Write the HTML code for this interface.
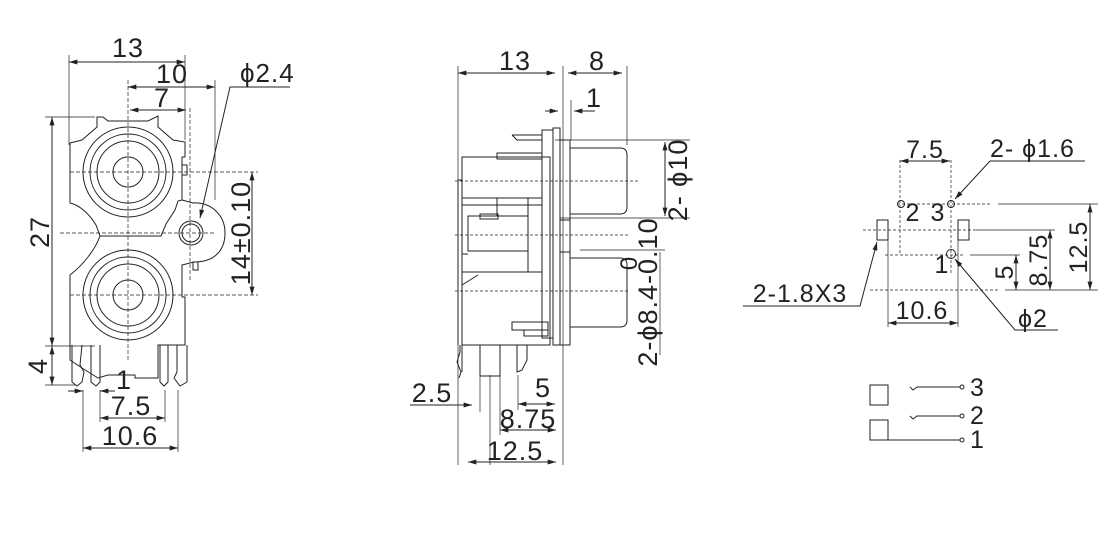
<!DOCTYPE html>
<html><head><meta charset="utf-8"><style>html,body{margin:0;padding:0;background:#fff}svg{display:block}text{font-family:"Liberation Sans",sans-serif;fill:#222;letter-spacing:1px}</style></head>
<body>
<svg width="1120" height="534" viewBox="0 0 1120 534" xmlns="http://www.w3.org/2000/svg">
<defs>
<marker id="a" viewBox="0 0 10 6" refX="10" refY="3" markerWidth="9" markerHeight="5" orient="auto-start-reverse"><path d="M0,0L10,3L0,6z" fill="#222"/></marker>
</defs>
<g stroke="#222" stroke-width="1" fill="none">
<!-- LEFT VIEW -->
<g stroke-width="0.7">
<line x1="69" y1="55" x2="69" y2="145"/><line x1="185" y1="55" x2="185" y2="140"/>
<line x1="128" y1="80" x2="128" y2="360" stroke-dasharray="4,2"/><line x1="215" y1="80" x2="215" y2="200"/>
<line x1="190" y1="108" x2="190" y2="280" stroke-dasharray="4,2"/>
<line x1="45" y1="117" x2="95" y2="117"/><line x1="45" y1="346" x2="95" y2="346"/>
<line x1="45" y1="385" x2="75" y2="385"/>
<line x1="70" y1="172" x2="258" y2="172" stroke-dasharray="4,2"/>
<line x1="60" y1="233" x2="215" y2="233" stroke-dasharray="4,2"/>
<line x1="70" y1="295" x2="258" y2="295" stroke-dasharray="4,2"/>
<line x1="83" y1="390" x2="83" y2="452"/><line x1="100" y1="390" x2="100" y2="422"/>
<line x1="165" y1="390" x2="165" y2="422"/><line x1="178" y1="390" x2="178" y2="452"/>
</g>
<line x1="69" y1="62" x2="185" y2="62" marker-start="url(#a)" marker-end="url(#a)"/>
<line x1="128" y1="87" x2="215" y2="87" marker-start="url(#a)" marker-end="url(#a)"/>
<line x1="130" y1="110" x2="186" y2="110" marker-start="url(#a)" marker-end="url(#a)"/>
<polyline points="290,87 230,87 200,218" marker-end="url(#a)"/>
<line x1="52" y1="117" x2="52" y2="346" marker-start="url(#a)" marker-end="url(#a)"/>
<line x1="52" y1="346" x2="52" y2="385" marker-start="url(#a)" marker-end="url(#a)"/>
<line x1="252" y1="172" x2="252" y2="295" marker-start="url(#a)" marker-end="url(#a)"/>
<line x1="68" y1="391" x2="83" y2="391" marker-end="url(#a)"/><line x1="115" y1="391" x2="100" y2="391" marker-end="url(#a)"/>
<line x1="100" y1="418" x2="165" y2="418" marker-start="url(#a)" marker-end="url(#a)"/>
<line x1="83" y1="448" x2="178" y2="448" marker-start="url(#a)" marker-end="url(#a)"/>
<path d="M70,143 L82,140 L97,127 L97,117 L103,117 L108,121 L148,121 L158,116 L158,127 L173,140 L185,142 L185,157 L182,157 L182,200 L178,201 L175,210 L166,224 L161,236 L100,236 L96,225 C90,215 80,205 70,203 Z"/>
<path d="M100,236 C95,250 83,265 70,275 L70,360 L82,368 L98,378 L108,375 L135,375 L135,378 L158,378 L158,345 L185,345 L185,297 L182,297 L182,265 L194,262 C215,262 225,250 225,233 C225,214 210,202 193,203 L182,200"/>
<circle cx="128" cy="172" r="45"/><circle cx="128" cy="172" r="38"/><circle cx="128" cy="172" r="31"/><circle cx="128" cy="172" r="15"/>
<circle cx="128" cy="295" r="45"/><circle cx="128" cy="295" r="38"/><circle cx="128" cy="295" r="31"/><circle cx="128" cy="295" r="15"/>
<circle cx="191" cy="233" r="12"/><circle cx="191" cy="233" r="9"/>
<rect x="182" y="165" width="5" height="10"/><rect x="193" y="262" width="5" height="8"/>
<path d="M72,345 L72,382 L77,386 L82,382 L84,372 L80,365 L82,345"/>
<path d="M91,345 L91,382 L96,386 L100,382 L100,345"/>
<path d="M160,345 L160,382 L164,386 L168,382 L168,345"/>
<path d="M177,345 L177,372 L174,378 L180,386 L187,382 L187,345"/>
<text x="128" y="57" font-size="27" text-anchor="middle" stroke="none">13</text>
<text x="172" y="83" font-size="27" text-anchor="middle" stroke="none">10</text>
<text x="162" y="107" font-size="27" text-anchor="middle" stroke="none">7</text>
<text x="240" y="82" font-size="26" stroke="none">ϕ2.4</text>
<text transform="translate(49,232) rotate(-90)" font-size="27" text-anchor="middle" stroke="none">27</text>
<text transform="translate(250,233) rotate(-90)" font-size="27" text-anchor="middle" stroke="none">14±0.10</text>
<text transform="translate(47,366) rotate(-90)" font-size="27" text-anchor="middle" stroke="none">4</text>
<text x="124" y="389" font-size="27" text-anchor="middle" stroke="none">1</text>
<text x="131" y="415" font-size="27" text-anchor="middle" stroke="none">7.5</text>
<text x="130" y="445" font-size="27" text-anchor="middle" stroke="none">10.6</text>

<!-- MIDDLE VIEW -->
<g stroke-width="0.7">
<line x1="458" y1="66" x2="458" y2="465"/><line x1="563" y1="66" x2="563" y2="465"/>
<line x1="627" y1="66" x2="627" y2="145"/><line x1="571" y1="100" x2="571" y2="140"/>
<line x1="555" y1="140" x2="690" y2="140"/><line x1="560" y1="218" x2="690" y2="218"/>
<line x1="580" y1="250" x2="665" y2="250"/><line x1="660" y1="252" x2="660" y2="355"/>
<line x1="455" y1="181" x2="640" y2="181" stroke-dasharray="3,2"/>
<line x1="455" y1="235" x2="630" y2="235" stroke-dasharray="3,2"/>
<line x1="455" y1="291" x2="630" y2="291" stroke-dasharray="3,2"/>
<line x1="480" y1="375" x2="480" y2="412"/><line x1="490" y1="375" x2="490" y2="465"/>
<line x1="500" y1="375" x2="500" y2="435"/><line x1="518" y1="375" x2="518" y2="410"/>
</g>
<line x1="458" y1="73" x2="555" y2="73" marker-start="url(#a)" marker-end="url(#a)"/>
<line x1="568" y1="73" x2="622" y2="73" marker-start="url(#a)" marker-end="url(#a)"/>
<line x1="545" y1="111" x2="558" y2="111" marker-end="url(#a)"/><line x1="595" y1="111" x2="574" y2="111" marker-end="url(#a)"/>
<line x1="665" y1="142" x2="665" y2="216" marker-start="url(#a)" marker-end="url(#a)"/>
<rect x="462" y="157" width="88" height="188"/>
<line x1="458" y1="180" x2="462" y2="180"/><line x1="458" y1="180" x2="458" y2="345"/>
<rect x="542" y="130" width="11" height="208"/><rect x="553" y="128" width="7" height="217"/><rect x="560" y="140" width="10" height="205"/>
<line x1="560" y1="220" x2="570" y2="220"/><line x1="560" y1="252" x2="570" y2="252"/>
<path d="M570,148 L620,148 Q627,148 627,155 L627,207 Q627,214 620,214 L570,214"/>
<path d="M570,258 L620,258 Q627,258 627,265 L627,320 Q627,327 620,327 L570,327"/>
<path d="M512,135 L542,135 M512,135 L517,140 L542,140"/>
<rect x="497" y="153" width="45" height="6"/>
<line x1="462" y1="198" x2="542" y2="198"/><line x1="462" y1="205" x2="542" y2="205"/>
<rect x="468" y="216" width="60" height="35"/><rect x="480" y="214" width="18" height="5"/>
<line x1="528" y1="198" x2="528" y2="272"/><line x1="497" y1="198" x2="497" y2="216"/>
<line x1="462" y1="254" x2="468" y2="254"/><line x1="462" y1="272" x2="542" y2="272"/>
<line x1="462" y1="285" x2="478" y2="275"/>
<rect x="512" y="322" width="36" height="8"/><rect x="524" y="330" width="24" height="6"/>
<path d="M460,345 L460,352 L457,362 L461,372 L459,378 M462,345 L462,372"/>
<path d="M480,345 L480,376 L500,376 L500,345"/>
<path d="M517,345 L517,372 L522,370 L527,360 L527,345"/>
<line x1="410" y1="405" x2="472" y2="405" marker-end="url(#a)"/>
<line x1="518" y1="404" x2="555" y2="404" marker-start="url(#a)" marker-end="url(#a)"/>
<line x1="500" y1="430" x2="556" y2="430" marker-start="url(#a)" marker-end="url(#a)"/>
<line x1="468" y1="462" x2="556" y2="462" marker-start="url(#a)" marker-end="url(#a)"/>
<text x="515" y="70" font-size="27" text-anchor="middle" stroke="none">13</text>
<text x="597" y="70" font-size="27" text-anchor="middle" stroke="none">8</text>
<text x="594" y="107" font-size="27" text-anchor="middle" stroke="none">1</text>
<text transform="translate(687,180) rotate(-90)" font-size="27" text-anchor="middle" stroke="none">2- ϕ10</text>
<text transform="translate(657,292) rotate(-90)" font-size="27" text-anchor="middle" stroke="none">2-ϕ8.4-0.10</text>
<text transform="translate(637,263) rotate(-90)" font-size="24" text-anchor="middle" stroke="none">0</text>
<text x="432" y="402" font-size="27" text-anchor="middle" stroke="none">2.5</text>
<text x="543" y="397" font-size="27" text-anchor="middle" stroke="none">5</text>
<text x="528" y="428" font-size="27" text-anchor="middle" stroke="none">8.75</text>
<text x="515" y="460" font-size="27" text-anchor="middle" stroke="none">12.5</text>

<!-- RIGHT VIEW -->
<g stroke-width="0.7" stroke-dasharray="3,2">
<line x1="900" y1="160" x2="900" y2="255"/><line x1="951" y1="160" x2="951" y2="275"/>
<line x1="897" y1="204" x2="990" y2="204"/><line x1="863" y1="230" x2="975" y2="230"/>
<line x1="885" y1="255" x2="965" y2="255"/><line x1="870" y1="290" x2="1000" y2="290"/>
</g>
<g stroke-width="0.7">
<line x1="998" y1="204" x2="1098" y2="204"/><line x1="975" y1="230" x2="1055" y2="230"/>
<line x1="970" y1="255" x2="1020" y2="255"/><line x1="1005" y1="290" x2="1098" y2="290"/>
<line x1="888" y1="240" x2="888" y2="327"/><line x1="958" y1="240" x2="958" y2="327"/>
</g>
<line x1="900" y1="161" x2="950" y2="161" marker-start="url(#a)" marker-end="url(#a)"/>
<polyline points="1085,161 990,161 955,199" marker-end="url(#a)"/>
<circle cx="901" cy="204" r="3.5"/><circle cx="951" cy="204" r="3.5"/><circle cx="951" cy="254" r="4.5"/>
<rect x="877" y="220" width="11" height="20"/><rect x="958" y="220" width="11" height="20"/>
<polyline points="743,306 860,306 877,242" marker-end="url(#a)"/>
<line x1="888" y1="323" x2="958" y2="323" marker-start="url(#a)" marker-end="url(#a)"/>
<polyline points="1058,330 1015,330 955,259" marker-end="url(#a)"/>
<line x1="1016" y1="255" x2="1016" y2="290" marker-start="url(#a)" marker-end="url(#a)"/>
<line x1="1050" y1="230" x2="1050" y2="290" marker-start="url(#a)" marker-end="url(#a)"/>
<line x1="1090" y1="204" x2="1090" y2="290" marker-start="url(#a)" marker-end="url(#a)"/>
<text x="925" y="158" font-size="25" text-anchor="middle" stroke="none">7.5</text>
<text x="990" y="157" font-size="25" stroke="none">2- ϕ1.6</text>
<text x="913" y="221" font-size="25" text-anchor="middle" stroke="none">2</text>
<text x="938" y="221" font-size="25" text-anchor="middle" stroke="none">3</text>
<text x="942" y="273" font-size="25" text-anchor="middle" stroke="none">1</text>
<text x="800" y="302" font-size="25" text-anchor="middle" stroke="none">2-1.8X3</text>
<text x="922" y="319" font-size="25" text-anchor="middle" stroke="none">10.6</text>
<text x="1018" y="327" font-size="25" stroke="none">ϕ2</text>
<text transform="translate(1013,272) rotate(-90)" font-size="25" text-anchor="middle" stroke="none">5</text>
<text transform="translate(1047,260) rotate(-90)" font-size="25" text-anchor="middle" stroke="none">8.75</text>
<text transform="translate(1087,247) rotate(-90)" font-size="25" text-anchor="middle" stroke="none">12.5</text>
<!-- schematic -->
<rect x="870" y="385" width="18" height="20"/><rect x="870" y="420" width="18" height="20"/>
<line x1="888" y1="440" x2="960" y2="440"/><circle cx="962" cy="440" r="2"/>
<polyline points="910,387 913,390 917,387 960,387"/><circle cx="962" cy="387" r="2"/>
<polyline points="910,416 913,419 917,416 960,416"/><circle cx="962" cy="416" r="2"/>
<text x="970" y="396" font-size="25" stroke="none">3</text>
<text x="970" y="424" font-size="25" stroke="none">2</text>
<text x="970" y="448" font-size="25" stroke="none">1</text>
</g>
</svg>
</body></html>
